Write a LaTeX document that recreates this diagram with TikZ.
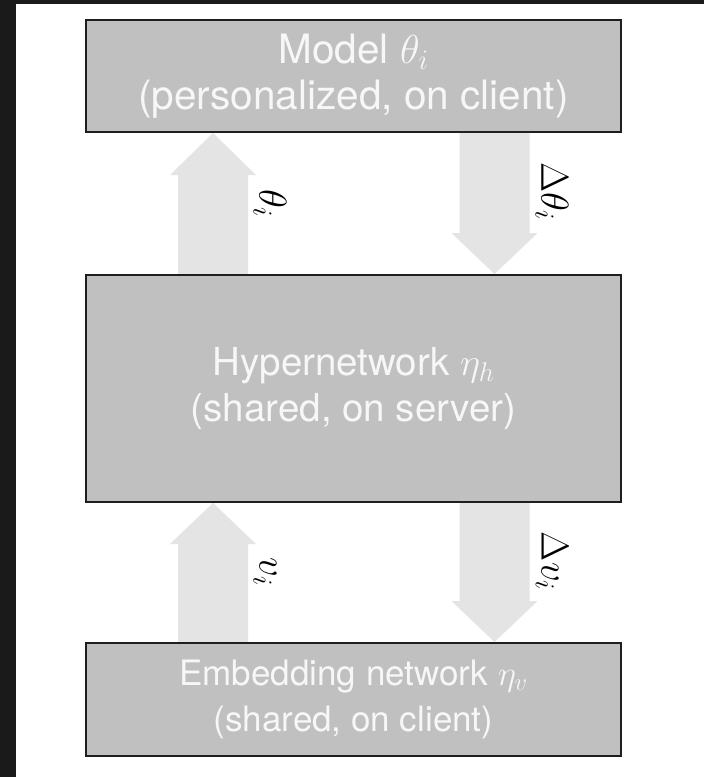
\RequirePackage{fix-cm}
\documentclass[tikz,border=0pt]{standalone}
\usepackage{fontspec}
\setmainfont{TeX Gyre Heros}
\usetikzlibrary{calc,backgrounds}
\definecolor{boxgray}{HTML}{C0C0C0}
\definecolor{boxedge}{HTML}{1E1E1E}
\definecolor{arrowgray}{HTML}{E4E4E4}
\definecolor{framedark}{HTML}{1A1A1A}
\definecolor{boxtext}{HTML}{F7F7F7}
\tikzset{
  box/.style={draw=boxedge, line width=2pt, fill=boxgray, text=boxtext,
    align=center, minimum width=535pt, inner sep=0pt},
  boxfont/.style={font={\fontsize{#1}{46}\selectfont}},
  fatarrow/.style={fill=arrowgray, draw=none},
  lbl/.style={rotate=-90, inner sep=0pt, font={\fontsize{39}{47}\selectfont}}
}
\begin{document}
\begin{tikzpicture}[x=1pt, y=-1pt]
\useasboundingbox (0,0) rectangle (704,777);
% boxes
\node[box, boxfont=40.5, minimum height=112pt] (model) at (353.5,76)
  {Model $\theta_i$\\(personalized, on client)};
\node[box, boxfont=38.5, minimum height=227pt] (hyper) at (353.5,388.5)
  {Hypernetwork $\eta_h$\\(shared, on server)};
\node[box, boxfont=35, minimum height=113pt] (emb) at (353.5,699.5)
  {Embedding network $\eta_v$\\(shared, on client)};
% arrow axes
\coordinate (cl) at (213,0);
\coordinate (cr) at (494.5,0);
\begin{scope}[on background layer]
  \fill[white] (0,0) rectangle (704,777);
  \fill[framedark] (0,0) rectangle (16,777);
  \fill[framedark] (0,0) rectangle (704,4);
  % theta_i up
  \fill[fatarrow] ($(cl |- hyper.north)+(-35,0)$) -- ($(cl |- model.south)+(-35,42)$)
    -- ($(cl |- model.south)+(-43,42)$) -- (cl |- model.south)
    -- ($(cl |- model.south)+(43,42)$) -- ($(cl |- model.south)+(35,42)$)
    -- ($(cl |- hyper.north)+(35,0)$) -- cycle;
  % delta theta down
  \fill[fatarrow] ($(cr |- model.south)+(-35,0)$) -- ($(cr |- hyper.north)+(-35,-41)$)
    -- ($(cr |- hyper.north)+(-43,-41)$) -- (cr |- hyper.north)
    -- ($(cr |- hyper.north)+(43,-41)$) -- ($(cr |- hyper.north)+(35,-41)$)
    -- ($(cr |- model.south)+(35,0)$) -- cycle;
  % v_i up
  \fill[fatarrow] ($(cl |- emb.north)+(-35,0)$) -- ($(cl |- hyper.south)+(-35,41)$)
    -- ($(cl |- hyper.south)+(-43,41)$) -- (cl |- hyper.south)
    -- ($(cl |- hyper.south)+(43,41)$) -- ($(cl |- hyper.south)+(35,41)$)
    -- ($(cl |- emb.north)+(35,0)$) -- cycle;
  % delta v down
  \fill[fatarrow] ($(cr |- hyper.south)+(-35,0)$) -- ($(cr |- emb.north)+(-35,-41)$)
    -- ($(cr |- emb.north)+(-43,-41)$) -- (cr |- emb.north)
    -- ($(cr |- emb.north)+(43,-41)$) -- ($(cr |- emb.north)+(35,-41)$)
    -- ($(cr |- hyper.south)+(35,0)$) -- cycle;
\end{scope}
% labels
\node[lbl] (lth) at (270,203) {$\theta_i$};
\node[lbl] (ldth) at (552,191) {$\Delta\theta_i$};
\node[lbl] (lv) at (265,572) {$v_i$};
\node[lbl] (ldv) at (552,561) {$\Delta v_i$};
\end{tikzpicture}
\end{document}
